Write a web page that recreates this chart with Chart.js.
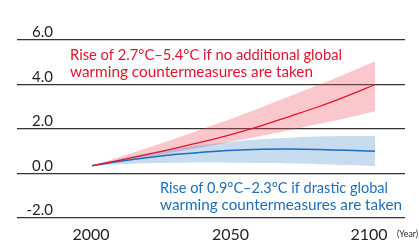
<!DOCTYPE html>
<html>
<head>
<meta charset="utf-8">
<script src="https://cdn.jsdelivr.net/npm/chart.js@4"></script>
<style>
  html, body { margin: 0; padding: 0; background: #fff; }
  #chart { display: block; }
</style>
</head>
<body>
<canvas id="chart" width="419" height="241"></canvas>
<script>
const years = [2000, 2010, 2020, 2030, 2040, 2050, 2060, 2070, 2080, 2090, 2100];

// no additional countermeasures
const redMid  = [0.35, 0.6, 0.87, 1.15, 1.45, 1.78, 2.15, 2.57, 3.0, 3.48, 4.0];
const redHigh = [0.35, 0.75, 1.17, 1.6, 2.05, 2.5, 2.98, 3.48, 3.98, 4.5, 5.05];
const redLow  = [0.35, 0.55, 0.76, 0.98, 1.2, 1.45, 1.7, 1.96, 2.23, 2.5, 2.8];

// drastic countermeasures
const blueMid  = [0.35, 0.55, 0.72, 0.86, 0.97, 1.05, 1.09, 1.1, 1.08, 1.04, 1.0];
const blueHigh = [0.35, 0.65, 0.92, 1.13, 1.3, 1.43, 1.54, 1.61, 1.66, 1.68, 1.68];
const blueLow  = [0.35, 0.42, 0.46, 0.48, 0.49, 0.48, 0.47, 0.45, 0.42, 0.38, 0.33];

const yTicks = [-2, 0, 2, 4, 6];
const xTicks = [2000, 2050, 2100];
const xShift = [-1, -3, -6];

const redLabel = ["Rise of 2.7°C–5.4°C if no additional global", "warming countermeasures are taken"];
const blueLabel = ["Rise of 0.9°C–2.3°C if drastic global", "warming countermeasures are taken"];

const RED = "#e3142d";
const BLUE = "#1c6fbd";
const INK = "#231f20";

function pts(values) {
  return years.map((y, i) => ({ x: y, y: values[i] }));
}

function line(values, color, width) {
  return {
    data: pts(values),
    borderColor: color,
    borderWidth: width,
    pointRadius: 0,
    tension: 0.4,
    fill: false,
  };
}

function band(values, fillColor) {
  return {
    data: pts(values),
    borderColor: "rgba(0,0,0,0)",
    borderWidth: 0,
    pointRadius: 0,
    tension: 0.4,
    backgroundColor: fillColor,
    fill: fillColor ? "+1" : false,
  };
}

const labelsPlugin = {
  id: "labels",
  afterDraw(chart) {
    const ctx = chart.ctx;
    const xs = chart.scales.x;
    const ys = chart.scales.y;
    const area = chart.chartArea;
    ctx.save();

    // y tick labels, sitting on top of the grid lines
    ctx.fillStyle = INK;
    ctx.font = "15px Lato";
    ctx.textAlign = "right";
    ctx.textBaseline = "alphabetic";
    yTicks.forEach((v) => {
      ctx.fillText(v.toFixed(1), area.left + 36, ys.getPixelForValue(v) - 3);
    });

    // x tick labels
    ctx.font = "16px Lato";
    ctx.textAlign = "center";
    xTicks.forEach((v, i) => {
      ctx.fillText(String(v), xs.getPixelForValue(v) + xShift[i], 240);
    });
    ctx.font = "10px Lato";
    ctx.textAlign = "left";
    ctx.fillText("(Year)", 397, 237, 21);

    // annotations
    ctx.font = "16px Lato";
    ctx.fillStyle = RED;
    ctx.fillText(redLabel[0], 70, 60, 272);
    ctx.fillText(redLabel[1], 70, 77, 243);
    ctx.fillStyle = BLUE;
    ctx.fillText(blueLabel[0], 160, 193, 228);
    ctx.fillText(blueLabel[1], 160, 210, 242);

    ctx.restore();
  },
};

new Chart(document.getElementById("chart"), {
  type: "line",
  data: {
    datasets: [
      line(redMid, RED, 1.3),
      line(blueMid, BLUE, 1.5),
      band(blueHigh, "rgba(70,140,200,0.3)"),
      band(blueLow, null),
      band(redHigh, "rgba(238,80,100,0.32)"),
      band(redLow, null),
    ],
  },
  options: {
    responsive: false,
    animation: false,
    devicePixelRatio: 1,
    layout: { padding: { left: 17, right: 14, top: 40, bottom: 23 } },
    plugins: {
      legend: { display: false },
      tooltip: { enabled: false },
    },
    scales: {
      x: {
        type: "linear",
        min: 1973.5,
        max: 2110.6,
        display: false,
      },
      y: {
        min: -2,
        max: 6,
        ticks: { display: false, stepSize: 2 },
        border: { display: false },
        grid: { color: "#333", lineWidth: 1.3, drawTicks: false },
        afterFit(scale) {
          scale.width = 0;
        },
      },
    },
  },
  plugins: [labelsPlugin],
});
</script>
</body>
</html>
